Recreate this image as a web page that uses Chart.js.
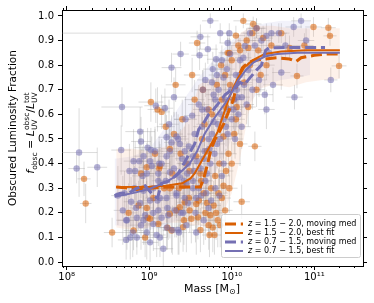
<!DOCTYPE html>
<html>
<head>
<meta charset="utf-8">
<script src="https://cdn.jsdelivr.net/npm/chart.js@4.4.0/dist/chart.umd.min.js"></script>
<style>
  html, body { margin: 0; padding: 0; background: #fff; }
  canvas { display: block; }
</style>
</head>
<body>
<canvas id="massChart" width="374" height="303"></canvas>
<script>
const FONT = 'DejaVu Sans';
const ORANGE = '#d95f02';
const PURPLE = '#7570b3';

// axis ranges (log10 mass, fraction)
const X_LOG_MIN = 7.943, X_LOG_MAX = 11.59;
const Y_MIN = -0.016, Y_MAX = 1.024;
const xMajorExps = [8, 9, 10, 11];
const yTicks = [0.0, 0.1, 0.2, 0.3, 0.4, 0.5, 0.6, 0.7, 0.8, 0.9, 1.0];

// galaxies: [log10 mass, f_obsc, mass err (dex), f err, optional lower mass err]
const purplePoints = [
  [8.15, 0.445, 0.22, 0.18], [8.12, 0.38, 0.10, 0.06], [8.37, 0.385, 0.12, 0.08], [8.67, 0.63, 0.25, 0.08],
  [8.66, 0.455, 0.12, 0.10], [8.72, 0.09, 0.10, 0.08], [8.80, 0.12, 0.15, 0.10], [8.62, 0.27, 0.08, 0.12],
  [8.72, 0.17, 0.12, 0.09], [8.85, 0.10, 0.09, 0.07], [8.90, 0.15, 0.14, 0.10], [8.95, 0.19, 0.10, 0.12],
  [8.82, 0.30, 0.13, 0.09], [8.88, 0.41, 0.10, 0.12], [8.98, 0.465, 0.16, 0.08], [8.89, 0.53, 0.18, 0.10],
  [8.93, 0.29, 0.11, 0.13], [8.78, 0.245, 0.09, 0.10], [8.70, 0.28, 0.10, 0.09], [8.76, 0.37, 0.12, 0.11],
  [8.84, 0.22, 0.08, 0.10], [8.92, 0.35, 0.13, 0.12], [8.97, 0.12, 0.10, 0.11], [8.68, 0.21, 0.11, 0.14],
  [9.02, 0.455, 0.12, 0.09], [9.08, 0.635, 0.14, 0.07], [9.19, 0.625, 0.10, 0.08], [9.27, 0.79, 0.12, 0.06],
  [9.30, 0.67, 0.15, 0.08], [9.38, 0.845, 0.10, 0.05], [9.05, 0.30, 0.09, 0.12], [9.10, 0.25, 0.11, 0.10],
  [9.12, 0.40, 0.13, 0.11], [9.15, 0.18, 0.10, 0.09], [9.17, 0.054, 0.12, 0.08], [9.20, 0.33, 0.09, 0.10],
  [9.22, 0.22, 0.14, 0.12], [9.25, 0.45, 0.10, 0.09], [9.28, 0.13, 0.12, 0.10], [9.30, 0.38, 0.08, 0.11],
  [9.33, 0.27, 0.11, 0.09], [9.35, 0.50, 0.13, 0.10], [9.38, 0.20, 0.10, 0.12], [9.40, 0.42, 0.09, 0.08],
  [9.42, 0.33, 0.12, 0.10], [9.44, 0.58, 0.14, 0.09], [9.45, 0.15, 0.10, 0.11], [9.47, 0.24, 0.08, 0.10],
  [9.48, 0.47, 0.11, 0.09], [9.05, 0.20, 0.12, 0.10], [9.13, 0.10, 0.09, 0.08], [9.24, 0.56, 0.12, 0.10],
  [9.36, 0.12, 0.10, 0.09], [9.46, 0.36, 0.13, 0.11], [9.03, 0.39, 0.10, 0.12], [9.11, 0.33, 0.08, 0.09],
  [8.90, 0.49, 0.12, 0.10], [9.21, 0.507, 0.10, 0.09], [9.27, 0.486, 0.09, 0.11], [9.33, 0.51, 0.12, 0.10],
  [9.37, 0.48, 0.10, 0.09], [9.43, 0.45, 0.11, 0.10], [9.53, 0.43, 0.09, 0.10], [9.47, 0.40, 0.12, 0.09],
  [9.21, 0.43, 0.10, 0.11], [9.15, 0.40, 0.09, 0.10], [9.01, 0.41, 0.13, 0.12], [9.07, 0.45, 0.10, 0.09],
  [8.93, 0.43, 0.11, 0.11], [8.81, 0.41, 0.12, 0.13], [8.83, 0.37, 0.10, 0.12], [8.97, 0.36, 0.09, 0.10],
  [9.11, 0.36, 0.11, 0.09], [9.25, 0.365, 0.10, 0.10], [9.37, 0.345, 0.09, 0.11], [9.45, 0.32, 0.12, 0.10],
  [9.53, 0.33, 0.10, 0.09], [9.21, 0.26, 0.09, 0.10], [9.13, 0.26, 0.11, 0.11], [9.01, 0.25, 0.10, 0.12],
  [8.89, 0.24, 0.12, 0.11], [9.33, 0.28, 0.10, 0.10], [9.43, 0.26, 0.09, 0.09], [9.57, 0.26, 0.11, 0.10],
  [9.11, 0.21, 0.10, 0.11], [9.23, 0.19, 0.12, 0.10], [9.31, 0.21, 0.09, 0.11], [9.41, 0.20, 0.10, 0.10],
  [8.85, 0.18, 0.11, 0.12], [8.93, 0.17, 0.10, 0.10], [9.05, 0.155, 0.09, 0.11], [9.21, 0.14, 0.12, 0.09],
  [9.35, 0.13, 0.10, 0.10], [8.73, 0.17, 0.11, 0.12], [8.77, 0.10, 0.09, 0.09], [9.01, 0.08, 0.10, 0.08],
  [9.09, 0.11, 0.11, 0.09],
  [9.52, 0.595, 0.10, 0.08], [9.53, 0.30, 0.12, 0.10], [9.55, 0.52, 0.09, 0.09], [9.56, 0.20, 0.11, 0.12],
  [9.58, 0.41, 0.10, 0.10], [9.60, 0.64, 0.13, 0.08], [9.61, 0.84, 0.10, 0.06], [9.62, 0.915, 0.12, 0.05],
  [9.63, 0.27, 0.09, 0.11], [9.64, 0.55, 0.11, 0.09], [9.65, 0.70, 0.10, 0.08], [9.67, 0.45, 0.12, 0.10],
  [9.68, 0.33, 0.09, 0.09], [9.70, 0.62, 0.10, 0.08], [9.71, 0.865, 0.12, 0.06], [9.72, 0.50, 0.08, 0.09],
  [9.74, 0.98, 0.10, 0.03], [9.74, 0.40, 0.11, 0.10], [9.76, 0.73, 0.09, 0.08], [9.77, 0.784, 0.12, 0.07],
  [9.78, 0.57, 0.10, 0.09], [9.80, 0.66, 0.09, 0.08], [9.81, 0.824, 0.11, 0.06], [9.82, 0.48, 0.10, 0.10],
  [9.84, 0.70, 0.08, 0.07], [9.86, 0.93, 0.10, 0.04, 1.95], [9.87, 0.60, 0.12, 0.09], [9.88, 0.35, 0.10, 0.10],
  [9.90, 0.75, 0.09, 0.07], [9.92, 0.66, 0.11, 0.08], [9.94, 0.784, 0.10, 0.07], [9.95, 0.52, 0.12, 0.09],
  [9.97, 0.93, 0.09, 0.04], [9.98, 0.845, 0.10, 0.06], [9.99, 0.70, 0.08, 0.08], [9.57, 0.12, 0.10, 0.09],
  [9.66, 0.17, 0.12, 0.10], [9.54, 0.37, 0.09, 0.11], [9.75, 0.25, 0.11, 0.10],
  [9.60, 0.30, 0.10, 0.10], [9.62, 0.38, 0.09, 0.09], [9.66, 0.42, 0.11, 0.10], [9.70, 0.36, 0.10, 0.11],
  [9.73, 0.46, 0.09, 0.09], [9.76, 0.52, 0.10, 0.08], [9.79, 0.44, 0.12, 0.10], [9.83, 0.56, 0.09, 0.09],
  [9.86, 0.50, 0.10, 0.08], [9.90, 0.58, 0.11, 0.09], [9.93, 0.55, 0.09, 0.08], [9.96, 0.62, 0.10, 0.07],
  [10.00, 0.58, 0.09, 0.08], [10.03, 0.66, 0.10, 0.07], [10.06, 0.70, 0.11, 0.07], [9.69, 0.28, 0.10, 0.10],
  [9.72, 0.22, 0.09, 0.11], [9.80, 0.30, 0.11, 0.10], [9.85, 0.27, 0.10, 0.09], [9.90, 0.40, 0.09, 0.10],
  [10.04, 0.50, 0.10, 0.08], [10.08, 0.60, 0.09, 0.08], [10.12, 0.67, 0.10, 0.07], [9.64, 0.62, 0.11, 0.08],
  [9.68, 0.74, 0.10, 0.07], [9.78, 0.68, 0.09, 0.08], [9.82, 0.76, 0.10, 0.07], [9.88, 0.82, 0.11, 0.06],
  [9.95, 0.89, 0.10, 0.05], [10.10, 0.76, 0.09, 0.07], [10.14, 0.83, 0.10, 0.06],
  [10.02, 0.62, 0.10, 0.08], [10.05, 0.76, 0.12, 0.07], [10.07, 0.67, 0.09, 0.08], [10.10, 0.82, 0.10, 0.06],
  [10.12, 0.55, 0.11, 0.09], [10.15, 0.72, 0.10, 0.07], [10.16, 0.878, 0.12, 0.05], [10.18, 0.64, 0.09, 0.08],
  [10.20, 0.78, 0.10, 0.07], [10.22, 0.93, 0.11, 0.04], [10.25, 0.70, 0.10, 0.08], [10.28, 0.88, 0.09, 0.05],
  [10.30, 0.95, 0.12, 0.04], [10.33, 0.74, 0.10, 0.07], [10.36, 0.90, 0.11, 0.05], [10.40, 0.68, 0.10, 0.08],
  [10.42, 0.919, 0.12, 0.05], [10.42, 0.62, 0.10, 0.08], [10.45, 0.85, 0.11, 0.06], [10.48, 0.93, 0.10, 0.04],
  [10.50, 0.72, 0.12, 0.07], [10.57, 0.93, 0.10, 0.04], [10.60, 0.77, 0.11, 0.07], [10.65, 0.88, 0.12, 0.05],
  [10.75, 0.955, 0.10, 0.04], [10.76, 0.67, 0.10, 0.05], [10.84, 0.98, 0.12, 0.03], [10.90, 0.90, 0.10, 0.05],
  [11.20, 0.74, 0.08, 0.05]
];

const orangePoints = [
  [8.21, 0.338, 0.08, 0.07], [8.23, 0.238, 0.07, 0.08], [8.55, 0.12, 0.10, 0.06], [8.81, 0.128, 0.12, 0.08],
  [8.87, 0.23, 0.10, 0.10], [8.93, 0.30, 0.13, 0.11], [8.98, 0.18, 0.09, 0.09], [8.75, 0.20, 0.11, 0.12],
  [8.90, 0.36, 0.12, 0.10], [8.95, 0.10, 0.10, 0.08],
  [9.02, 0.65, 0.15, 0.08], [9.10, 0.62, 0.12, 0.09], [9.15, 0.61, 0.10, 0.07], [9.20, 0.55, 0.11, 0.09],
  [9.05, 0.26, 0.10, 0.10], [9.12, 0.38, 0.09, 0.11], [9.18, 0.30, 0.12, 0.10], [9.22, 0.14, 0.10, 0.09],
  [9.25, 0.46, 0.11, 0.10], [9.28, 0.36, 0.09, 0.09], [9.32, 0.72, 0.12, 0.07], [9.33, 0.21, 0.10, 0.11],
  [9.36, 0.30, 0.11, 0.10], [9.40, 0.58, 0.10, 0.08], [9.42, 0.17, 0.09, 0.10], [9.45, 0.40, 0.12, 0.09],
  [9.48, 0.26, 0.10, 0.11], [9.30, 0.52, 0.11, 0.09], [9.38, 0.44, 0.10, 0.10], [9.07, 0.44, 0.12, 0.11],
  [8.97, 0.385, 0.10, 0.10], [9.13, 0.39, 0.11, 0.09], [8.97, 0.22, 0.09, 0.11], [9.01, 0.176, 0.10, 0.10],
  [9.11, 0.155, 0.12, 0.09], [9.25, 0.196, 0.10, 0.10], [9.37, 0.223, 0.09, 0.11], [9.43, 0.243, 0.10, 0.10],
  [9.49, 0.21, 0.11, 0.09], [9.51, 0.176, 0.09, 0.10], [9.57, 0.236, 0.10, 0.11], [9.59, 0.182, 0.11, 0.09],
  [9.27, 0.128, 0.10, 0.09], [9.41, 0.142, 0.09, 0.10], [9.49, 0.37, 0.11, 0.10], [9.25, 0.30, 0.10, 0.11],
  [9.41, 0.31, 0.09, 0.10],
  [9.52, 0.76, 0.10, 0.07], [9.55, 0.66, 0.12, 0.08], [9.58, 0.89, 0.10, 0.05], [9.60, 0.25, 0.09, 0.10],
  [9.62, 0.13, 0.10, 0.09], [9.63, 0.33, 0.11, 0.10], [9.65, 0.70, 0.10, 0.08], [9.68, 0.20, 0.09, 0.11],
  [9.70, 0.45, 0.12, 0.09], [9.72, 0.15, 0.10, 0.10], [9.73, 0.11, 0.09, 0.09], [9.75, 0.30, 0.10, 0.10],
  [9.76, 0.60, 0.11, 0.08], [9.78, 0.23, 0.09, 0.10], [9.80, 0.35, 0.10, 0.09], [9.82, 0.72, 0.12, 0.07],
  [9.83, 0.17, 0.10, 0.11], [9.85, 0.40, 0.09, 0.10], [9.87, 0.80, 0.10, 0.06], [9.88, 0.26, 0.11, 0.10],
  [9.90, 0.51, 0.10, 0.09], [9.92, 0.21, 0.09, 0.10], [9.93, 0.63, 0.10, 0.08], [9.95, 0.85, 0.11, 0.06],
  [9.96, 0.44, 0.10, 0.09], [9.97, 0.85, 0.09, 0.06], [9.98, 0.72, 0.10, 0.07], [9.57, 0.43, 0.11, 0.10],
  [9.67, 0.56, 0.10, 0.09], [9.79, 0.11, 0.09, 0.08],
  [9.62, 0.36, 0.10, 0.10], [9.66, 0.28, 0.09, 0.11], [9.70, 0.24, 0.11, 0.10], [9.74, 0.19, 0.10, 0.09],
  [9.77, 0.14, 0.09, 0.10], [9.81, 0.20, 0.10, 0.11], [9.84, 0.28, 0.11, 0.10], [9.86, 0.15, 0.09, 0.09],
  [9.90, 0.31, 0.10, 0.10], [9.93, 0.37, 0.09, 0.09], [9.97, 0.30, 0.10, 0.10], [10.00, 0.40, 0.11, 0.09],
  [10.03, 0.52, 0.10, 0.08], [10.06, 0.63, 0.09, 0.08], [9.64, 0.50, 0.10, 0.09], [9.72, 0.62, 0.11, 0.08],
  [9.88, 0.66, 0.10, 0.08], [9.92, 0.76, 0.09, 0.07], [10.00, 0.82, 0.10, 0.06], [10.05, 0.92, 0.11, 0.04],
  [10.10, 0.86, 0.10, 0.05], [10.20, 0.87, 0.09, 0.05], [10.30, 0.95, 0.10, 0.04],
  [10.02, 0.66, 0.10, 0.08], [10.05, 0.58, 0.11, 0.09], [10.08, 0.88, 0.10, 0.05], [10.10, 0.48, 0.09, 0.09],
  [10.12, 0.245, 0.10, 0.07], [10.14, 0.98, 0.12, 0.03], [10.15, 0.73, 0.10, 0.07], [10.18, 0.90, 0.11, 0.05],
  [10.20, 0.63, 0.09, 0.08], [10.22, 0.80, 0.10, 0.06], [10.25, 0.93, 0.11, 0.04], [10.26, 0.967, 0.10, 0.03],
  [10.28, 0.47, 0.08, 0.06], [10.30, 0.70, 0.10, 0.07], [10.32, 0.86, 0.11, 0.05], [10.35, 0.76, 0.10, 0.07],
  [10.38, 0.91, 0.12, 0.05], [10.42, 0.80, 0.10, 0.06], [10.48, 0.88, 0.11, 0.05],
  [10.60, 0.93, 0.10, 0.04], [10.79, 0.756, 0.08, 0.05], [10.99, 0.955, 0.10, 0.04], [11.17, 0.952, 0.09, 0.04],
  [11.19, 0.919, 0.08, 0.04], [11.30, 0.797, 0.09, 0.05], [10.70, 0.87, 0.10, 0.05], [10.88, 0.88, 0.11, 0.05]
];

// 16-84% envelope of the moving median: [log10 mass, lower, upper]
const orangeBand = [
  [8.60, 0.14, 0.46], [8.80, 0.13, 0.46], [9.00, 0.14, 0.45], [9.20, 0.16, 0.47], [9.40, 0.16, 0.54],
  [9.50, 0.15, 0.60], [9.60, 0.15, 0.72], [9.70, 0.14, 0.74], [9.80, 0.17, 0.75], [9.90, 0.20, 0.80],
  [10.00, 0.28, 0.88], [10.10, 0.42, 0.93], [10.20, 0.60, 0.95], [10.30, 0.70, 0.96], [10.50, 0.72, 0.96],
  [10.70, 0.71, 0.95], [10.90, 0.73, 0.95], [11.10, 0.74, 0.95], [11.31, 0.745, 0.95]
];
const purpleBand = [
  [8.58, 0.15, 0.42], [8.80, 0.14, 0.43], [9.00, 0.13, 0.46], [9.20, 0.15, 0.55], [9.40, 0.18, 0.65],
  [9.60, 0.25, 0.75], [9.80, 0.36, 0.83], [10.00, 0.50, 0.90], [10.20, 0.64, 0.95], [10.40, 0.72, 0.97],
  [10.60, 0.74, 0.98], [10.80, 0.75, 0.98], [10.95, 0.76, 0.98]
];

// moving medians and best fits: [log10 mass, f_obsc]
const orangeMed = [
  [8.60, 0.305], [8.75, 0.30], [8.85, 0.295], [9.00, 0.30], [9.20, 0.305], [9.40, 0.305], [9.62, 0.305],
  [9.66, 0.34], [9.70, 0.39], [9.75, 0.46], [9.80, 0.50], [9.85, 0.53], [9.90, 0.56], [9.96, 0.61],
  [10.02, 0.66], [10.06, 0.72], [10.09, 0.76], [10.13, 0.79], [10.20, 0.81], [10.28, 0.82], [10.40, 0.825],
  [10.55, 0.83], [10.70, 0.825], [10.78, 0.815], [10.84, 0.83], [11.00, 0.84], [11.15, 0.845], [11.31, 0.845]
];
const orangeFit = [
  [8.60, 0.305], [9.00, 0.306], [9.20, 0.31], [9.40, 0.32], [9.50, 0.34], [9.55, 0.36], [9.65, 0.42],
  [9.75, 0.48], [9.83, 0.53], [9.90, 0.60], [9.96, 0.66], [10.02, 0.71], [10.08, 0.75], [10.15, 0.79],
  [10.25, 0.82], [10.40, 0.845], [10.60, 0.855], [10.90, 0.86], [11.31, 0.86]
];
const purpleMed = [
  [8.58, 0.27], [8.65, 0.28], [8.75, 0.28], [8.85, 0.30], [8.95, 0.31], [9.05, 0.27], [9.10, 0.26],
  [9.15, 0.32], [9.25, 0.33], [9.35, 0.36], [9.42, 0.40], [9.50, 0.45], [9.55, 0.48], [9.60, 0.54],
  [9.65, 0.56], [9.72, 0.60], [9.78, 0.62], [9.85, 0.65], [9.92, 0.68], [10.00, 0.70], [10.05, 0.71],
  [10.10, 0.73], [10.15, 0.72], [10.20, 0.74], [10.30, 0.78], [10.36, 0.80], [10.41, 0.86], [10.45, 0.87],
  [10.70, 0.872], [10.95, 0.872], [11.13, 0.872]
];
const purpleFit = [
  [8.58, 0.265], [8.80, 0.28], [9.00, 0.297], [9.20, 0.325], [9.33, 0.35], [9.49, 0.40], [9.58, 0.45],
  [9.67, 0.52], [9.80, 0.59], [9.92, 0.645], [10.00, 0.69], [10.08, 0.74], [10.17, 0.78], [10.26, 0.81],
  [10.40, 0.835], [10.55, 0.845], [10.80, 0.85], [11.31, 0.85]
];

const legendItems = [
  { range: '1.5 − 2.0', what: 'moving med', color: ORANGE, dashed: true },
  { range: '1.5 − 2.0', what: 'best fit', color: ORANGE, dashed: false },
  { range: '0.7 − 1.5', what: 'moving med', color: PURPLE, dashed: true },
  { range: '0.7 − 1.5', what: 'best fit', color: PURPLE, dashed: false }
];

const toXY = rows => rows.map(r => ({ x: Math.pow(10, r[0]), y: r[1] }));
const bandSide = (rows, i) => rows.map(r => ({ x: Math.pow(10, r[0]), y: r[i] }));
const SUP = { '0': '⁰', '1': '¹', '8': '⁸', '9': '⁹' };
const supNum = n => String(n).split('').map(c => SUP[c]).join('');

function drawRuns(ctx, runs, cx, baseY) {
  let total = 0;
  runs.forEach(r => {
    ctx.font = r.font;
    r.w = r.stack ? Math.max(...r.stack.map(s => ctx.measureText(s.t).width)) : ctx.measureText(r.t).width;
    total += r.w;
  });
  let x = cx - total / 2;
  runs.forEach(r => {
    ctx.font = r.font;
    if (r.stack) r.stack.forEach(s => ctx.fillText(s.t, x, baseY + s.dy));
    else ctx.fillText(r.t, x, baseY + (r.dy || 0));
    x += r.w;
  });
}

const errorBars = {
  id: 'errorBars',
  beforeDatasetsDraw(chart) {
    const { ctx, chartArea: a, scales: { x, y } } = chart;
    ctx.save();
    ctx.beginPath();
    ctx.rect(a.left, a.top, a.right - a.left, a.bottom - a.top);
    ctx.clip();
    ctx.strokeStyle = 'rgba(150,150,150,0.33)';
    ctx.lineWidth = 1;
    [orangePoints, purplePoints].forEach(pts => pts.forEach(p => {
      const lo = p[4] !== undefined ? p[4] : p[2];
      const px = x.getPixelForValue(Math.pow(10, p[0]));
      const py = y.getPixelForValue(p[1]);
      ctx.beginPath();
      ctx.moveTo(x.getPixelForValue(Math.pow(10, p[0] - lo)), py);
      ctx.lineTo(x.getPixelForValue(Math.pow(10, p[0] + p[2])), py);
      ctx.moveTo(px, y.getPixelForValue(p[1] - p[3]));
      ctx.lineTo(px, y.getPixelForValue(p[1] + p[3]));
      ctx.stroke();
    }));
    ctx.restore();
  }
};

const decorations = {
  id: 'decorations',
  afterDraw(chart) {
    const { ctx, chartArea: a, scales: { x } } = chart;
    ctx.save();
    // minor log ticks, bottom and top
    ctx.strokeStyle = '#000';
    ctx.lineWidth = 1;
    for (let e = 7; e <= 11; e++) {
      for (let k = 2; k <= 9; k++) {
        const lv = e + Math.log10(k);
        if (lv < X_LOG_MIN || lv > X_LOG_MAX) continue;
        const px = Math.round(x.getPixelForValue(k * Math.pow(10, e))) + 0.5;
        ctx.beginPath();
        ctx.moveTo(px, a.bottom); ctx.lineTo(px, a.bottom + 2);
        ctx.moveTo(px, a.top); ctx.lineTo(px, a.top - 2);
        ctx.stroke();
      }
    }

    ctx.fillStyle = '#000';
    ctx.textBaseline = 'alphabetic';
    // x title
    drawRuns(ctx, [
      { t: 'Mass [M', font: `11px ${FONT}` },
      { t: '⊙', font: `8px ${FONT}`, dy: 2 },
      { t: ']', font: `11px ${FONT}` }
    ], 212, 292);

    // y title, two rotated lines
    ctx.save();
    ctx.translate(16, 128);
    ctx.rotate(-Math.PI / 2);
    drawRuns(ctx, [{ t: 'Obscured Luminosity Fraction', font: `10.5px ${FONT}` }], 0, 0);
    ctx.restore();

    ctx.save();
    ctx.translate(34, 133);
    ctx.rotate(-Math.PI / 2);
    const it = `italic 11px ${FONT}`, rm = `11px ${FONT}`, sm = `7.5px ${FONT}`;
    drawRuns(ctx, [
      { t: 'f', font: it },
      { t: 'obsc', font: sm, dy: 2.5 },
      { t: ' = ', font: rm },
      { t: 'L', font: it },
      { stack: [{ t: 'UV', dy: 3 }, { t: 'obsc', dy: -5 }], font: sm },
      { t: '/', font: rm },
      { t: 'L', font: it },
      { stack: [{ t: 'UV', dy: 3 }, { t: 'tot', dy: -5 }], font: sm }
    ], 0, 0);
    ctx.restore();

    // legend
    const bx = 221.5, by = 214.5, bw = 139, bh = 43;
    ctx.fillStyle = 'rgba(255,255,255,0.8)';
    ctx.strokeStyle = '#cccccc';
    ctx.beginPath();
    ctx.roundRect(bx, by, bw, bh, 2);
    ctx.fill();
    ctx.stroke();
    legendItems.forEach((item, i) => {
      const ly = 224 + i * 9;
      ctx.strokeStyle = item.color;
      ctx.lineWidth = item.dashed ? 3 : 2;
      ctx.setLineDash(item.dashed ? [11, 4.8] : []);
      ctx.beginPath();
      ctx.moveTo(225, ly); ctx.lineTo(243, ly);
      ctx.stroke();
      ctx.setLineDash([]);
      ctx.fillStyle = '#000';
      ctx.textBaseline = 'middle';
      ctx.font = `italic 8px ${FONT}`;
      ctx.fillText('z', 248, ly);
      const zw = ctx.measureText('z').width;
      ctx.font = `8px ${FONT}`;
      ctx.fillText(' = ' + item.range + ', ' + item.what, 248 + zw, ly);
    });
    ctx.restore();
  }
};

const axisBase = {
  border: { display: true, color: '#000', width: 1 },
  grid: { drawOnChartArea: false, drawTicks: true, tickLength: 4, tickColor: '#000' }
};

const xAxis = (pos, h, showLabels) => ({
  ...axisBase,
  type: 'logarithmic',
  position: pos,
  min: Math.pow(10, X_LOG_MIN),
  max: Math.pow(10, X_LOG_MAX),
  afterBuildTicks: s => { s.ticks = xMajorExps.map(e => ({ value: Math.pow(10, e), major: true })); },
  afterFit: s => { s.height = h; },
  ticks: {
    display: showLabels, autoSkip: false, maxRotation: 0, padding: 1, color: '#000',
    font: { family: FONT, size: 10 },
    callback: v => '10' + supNum(Math.round(Math.log10(v)))
  }
});

const yAxis = (pos, w, showLabels) => ({
  ...axisBase,
  type: 'linear',
  position: pos,
  min: Y_MIN,
  max: Y_MAX,
  afterBuildTicks: s => { s.ticks = yTicks.map(v => ({ value: v })); },
  afterFit: s => { s.width = w; },
  ticks: {
    display: showLabels, padding: 4, color: '#000',
    font: { family: FONT, size: 10 },
    callback: v => v.toFixed(1)
  }
});

const lineSet = (rows, color, dashed, order) => ({
  type: 'line', data: toXY(rows), borderColor: color, borderWidth: dashed ? 3 : 2,
  borderDash: dashed ? [11, 4.8] : [], pointRadius: 0, fill: false, tension: 0, order
});
const bandSet = (rows, i, color, fill) => ({
  type: 'line', data: bandSide(rows, i), borderWidth: 0, borderColor: 'rgba(0,0,0,0)',
  backgroundColor: color, pointRadius: 0, fill, tension: 0, order: 10
});

new Chart(document.getElementById('massChart'), {
  type: 'scatter',
  data: {
    datasets: [
      bandSet(orangeBand, 2, 'rgba(240,150,90,0.13)', '+1'),
      bandSet(orangeBand, 1, 'rgba(0,0,0,0)', false),
      bandSet(purpleBand, 2, 'rgba(150,145,215,0.12)', '+1'),
      bandSet(purpleBand, 1, 'rgba(0,0,0,0)', false),
      { data: toXY(orangePoints), backgroundColor: 'rgba(217,95,2,0.55)', borderWidth: 0, pointRadius: 3.2, order: 9 },
      { data: toXY(purplePoints), backgroundColor: 'rgba(117,112,179,0.55)', borderWidth: 0, pointRadius: 3.2, order: 8 },
      lineSet(orangeMed, ORANGE, true, 5),
      lineSet(orangeFit, ORANGE, false, 4),
      lineSet(purpleMed, PURPLE, true, 3),
      lineSet(purpleFit, PURPLE, false, 2)
    ]
  },
  options: {
    responsive: false,
    animation: false,
    layout: { padding: 0 },
    plugins: { legend: { display: false }, tooltip: { enabled: false } },
    scales: {
      x: xAxis('bottom', 37, true),
      x2: xAxis('top', 9, false),
      y: yAxis('left', 62, true),
      y2: yAxis('right', 11, false)
    }
  },
  plugins: [errorBars, decorations]
});
</script>
</body>
</html>
